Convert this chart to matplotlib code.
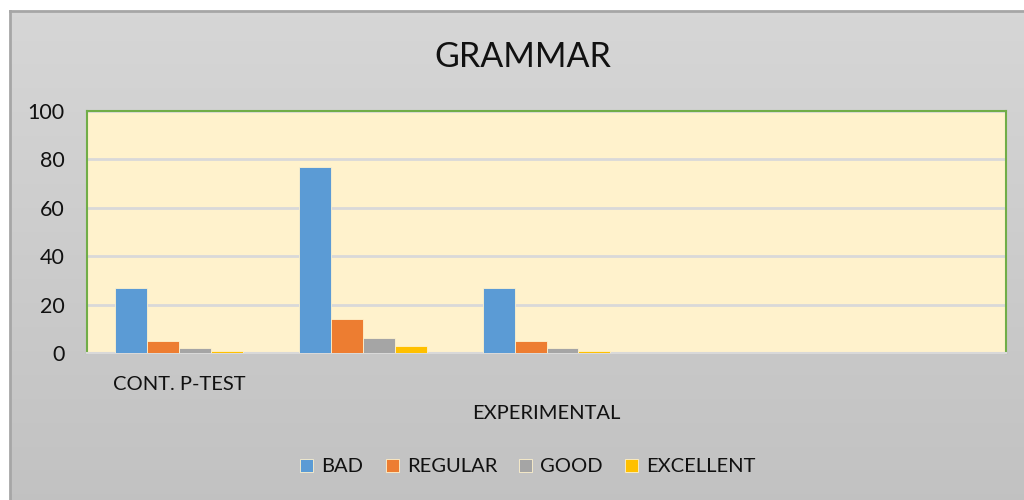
import numpy as np
import matplotlib.pyplot as plt

plt.rcParams['font.family'] = ['Lato', 'DejaVu Sans']

categories = ["CONT. P-TEST", "", "EXPERIMENTAL", "", ""]
series = ["BAD", "REGULAR", "GOOD", "EXCELLENT"]
bad = [27, 77, 27, 0, 0]
regular = [5, 14, 5, 0, 0]
good = [2, 6, 2, 0, 0]
excellent = [1, 3, 1, 0, 0]
colors = ["#5B9BD5", "#ED7D31", "#A5A5A5", "#FFC000"]

fig = plt.figure(figsize=(10.24, 5.0), dpi=100)
fig.patch.set_facecolor("white")

# chart area with soft gray gradient
bg = fig.add_axes([10 / 1024, 0, 1 - 10 / 1024, 489 / 500])
grad = np.linspace(0.84, 0.76, 256).reshape(-1, 1)
bg.imshow(np.dstack([grad, grad, grad]), aspect="auto", extent=[0, 1, 0, 1])
bg.set_xlim(0, 1)
bg.set_ylim(0, 1)
bg.set_xticks([])
bg.set_yticks([])
for s in ["right", "bottom"]:
    bg.spines[s].set_visible(False)
for s in ["left", "top"]:
    bg.spines[s].set_color("#a6a6a6")
    bg.spines[s].set_linewidth(2)

ax = fig.add_axes([87 / 1024, 1 - 353 / 500, (1006 - 87) / 1024, (353 - 111) / 500])
ax.set_facecolor("#FFF2CC")

x = np.arange(len(categories))
w = 0.174
data = [bad, regular, good, excellent]
for i, (name, vals) in enumerate(zip(series, data)):
    ax.bar(x + (i - 1.5) * w, vals, w, color=colors[i], label=name, zorder=3,
           edgecolor="#FFF2CC", linewidth=0.6)

ax.set_xlim(-0.5, len(categories) - 0.5)
ax.set_ylim(0, 100)
ax.set_yticks(range(0, 101, 20))
ax.yaxis.grid(True, color="#d9d9d9", linewidth=2, zorder=0)
ax.tick_params(axis="y", length=0, labelsize=15.5, pad=16, labelcolor="#111111")
ax.tick_params(axis="x", length=0)
ax.set_xticks([])
for s in ax.spines.values():
    s.set_color("#70AD47")
    s.set_linewidth(1.5)
ax.spines["bottom"].set_color("#d9d9d9")

# staggered category labels like the original
for i, lab in enumerate(categories):
    if not lab:
        continue
    off = -0.13 if i % 4 == 0 else -0.25
    ax.text(x[i], off, lab, transform=ax.get_xaxis_transform(), ha="center",
            va="center", fontsize=14.5, color="#111111")

fig.text(523 / 1024, 1 - 57 / 500, "GRAMMAR", ha="center", va="center",
         fontsize=24.5, color="#111111")

fig.legend(loc="center", bbox_to_anchor=(528 / 1024, 1 - 467 / 500), ncol=4,
           frameon=False, fontsize=14.5, handlelength=0.65, handleheight=0.65,
           columnspacing=1.1, handletextpad=0.4, labelcolor="#111111")

fig.savefig("out.png", dpi=100)
